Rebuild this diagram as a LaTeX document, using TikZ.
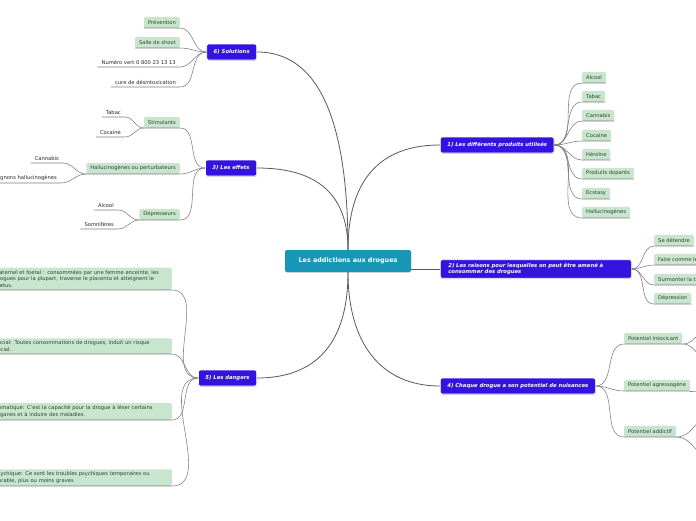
\documentclass[tikz,border=0pt]{standalone}
\usepackage{fontspec}
\setmainfont{DejaVu Sans}
\usetikzlibrary{positioning,shadows}
\definecolor{topicblue}{RGB}{52,18,224}
\definecolor{rootteal}{RGB}{24,150,184}
\definecolor{leafgreen}{RGB}{200,230,205}
\definecolor{leaftext}{RGB}{45,65,50}
\definecolor{linkgray}{RGB}{125,125,125}

\begin{document}
\begin{tikzpicture}[x=1pt, y=-1pt,
  root/.style={fill=rootteal, rounded corners=2pt, text=white, font=\fontsize{6.4}{7.5}\selectfont\bfseries,
    minimum width=126pt, minimum height=22pt, drop shadow={opacity=.25, shadow xshift=.3pt, shadow yshift=-.8pt}},
  topic/.style={fill=topicblue, draw=white, line width=.7pt, rounded corners=2pt, text=white,
    font=\fontsize{5.3}{6.6}\selectfont\bfseries\itshape, minimum height=16pt, inner xsep=7pt,
    drop shadow={opacity=.35, shadow xshift=.4pt, shadow yshift=-.9pt}},
  leaf/.style={fill=leafgreen, rounded corners=1.5pt, text=leaftext, font=\fontsize{5.2}{6.5}\selectfont,
    minimum height=11pt, inner xsep=4pt, inner ysep=1pt},
  note/.style={leaf, text width=173pt, align=left, inner ysep=2.5pt},
  bare/.style={text=black!85, font=\fontsize{5.2}{6.5}\selectfont, inner xsep=4pt, inner ysep=2pt},
  link/.style={draw=linkgray, line width=.55pt},
  trunk/.style={draw=black!65, line width=.8pt}]
\useasboundingbox (0,0) rectangle (696,520);
\clip (0,0) rectangle (696,520);
\fill[white] (0,0) rectangle (696,520);

% root and main topics
\node[root] (root) at (348,261) {Les addictions aux drogues};
\node[topic, anchor=east] (sol) at (257,52) {6) Solutions};
\node[topic, anchor=east] (eff) at (257,168) {3) Les effets};
\node[topic, anchor=east] (dan) at (257,378) {5) Les dangers};
\node[topic, anchor=west] (prod) at (440,145) {1) Les différents produits utilisés};
\node[topic, anchor=west, text width=175pt, align=left, inner xsep=8pt] (rais) at (440,269)
  {2) Les raisons pour lesquelles on peut être amené à\\consommer des drogues};
\node[topic, anchor=west] (pot) at (440,386) {4) Chaque drogue a son potentiel de nuisances};

\draw[trunk] (root.north) .. controls +(0,-110) and +(70,0) .. (sol.east);
\draw[trunk] (root.north) .. controls +(0,-60) and +(55,0) .. (eff.east);
\draw[trunk] (root.north) .. controls +(0,-70) and +(-60,0) .. (prod.west);
\draw[trunk] (root.east |- rais.west) -- (rais.west);
\draw[trunk] (root.south) .. controls +(0,70) and +(60,0) .. (dan.east);
\draw[trunk] (root.south) .. controls +(0,70) and +(-60,0) .. (pot.west);

% 6) Solutions
\node[leaf, anchor=south east] (prev) at (180,28) {Prévention};
\node[leaf, anchor=south east] (salle) at (180,48) {Salle de shoot};
\node[bare, anchor=south east] (nvert) at (180,67) {Numéro vert 0 800 23 13 13};
\node[bare, anchor=south east] (cure) at (180,87) {cure de désintoxication};
\foreach \n in {prev,salle,nvert,cure}
  \draw[link] (sol.west) to[out=180,in=0] (\n.south east) -- (\n.south west);

% 3) Les effets
\node[leaf, anchor=south east] (stim) at (180,128) {Stimulants};
\node[leaf, anchor=south east] (hallu) at (180,174) {Hallucinogènes ou perturbateurs};
\node[leaf, anchor=south east] (depr) at (180,220) {Dépresseurs};
\foreach \n in {stim,hallu,depr}
  \draw[link] (eff.west) to[out=180,in=0] (\n.south east) -- (\n.south west);
\node[bare, anchor=south east] (stab) at (125,117) {Tabac};
\node[bare, anchor=south east] (scoc) at (125,137) {Cocaine};
\node[bare, anchor=south east] (hcan) at (63,163) {Cannabis};
\node[bare, anchor=south east] (hcha) at (61,183) {Champignons hallucinogènes};
\node[bare, anchor=south east] (dalc) at (118,210) {Alcool};
\node[bare, anchor=south east] (dsom) at (118,229) {Somnifères};
\foreach \p/\n in {stim/stab,stim/scoc,hallu/hcan,hallu/hcha,depr/dalc,depr/dsom}
  \draw[link] (\p.south west) to[out=180,in=0] (\n.south east) -- (\n.south west);

% 5) Les dangers
\node[note, anchor=south east] (d1) at (172,290)
  {Maternel et foetal : consommées par une femme enceinte, les\\drogues pour la plupart, traverse le placenta et atteignent le\\foetus.};
\node[note, anchor=south east] (d2) at (172,354)
  {Social: Toutes consommations de drogues, induit un risque\\social.};
\node[note, anchor=south east] (d3) at (172,420)
  {Somatique: C'est la capacité pour la drogue à léser certains\\organes et à induire des maladies.};
\node[note, anchor=south east] (d4) at (172,486)
  {Psychique: Ce sont les troubles psychiques temporaires ou\\durable, plus ou moins graves};
\foreach \n in {d1,d2,d3,d4}
  \draw[link] (dan.west) to[out=180,in=0] (\n.south east) -- (\n.south west);

% 1) Les differents produits
\foreach \n/\t/\y in {p1/Alcool/83, p2/Tabac/102, p3/Cannabis/121, p4/Cocaine/141,
    p5/Héroïne/160, p6/Produits dopants/179, p7/Ecstasy/199, p8/Hallucinogènes/218}
  \node[leaf, anchor=south west] (\n) at (582,\y) {\t};
\foreach \n in {p1,p2,p3,p4,p5,p6,p7,p8}
  \draw[link] (prod.east) to[out=0,in=180] (\n.south west) -- (\n.south east);

% 2) Les raisons
\foreach \n/\t/\y in {r1/Se détendre/246, r2/Faire comme les autres/265,
    r3/Surmonter la timidité/285, r4/Dépression/304}
  \node[leaf, anchor=south west] (\n) at (654,\y) {\t};
\foreach \n in {r1,r2,r3,r4}
  \draw[link] (rais.east) to[out=0,in=180] (\n.south west) -- (\n.south east);

% 4) Potentiel de nuisances
\node[leaf, anchor=south west] (intox) at (624,344) {Potentiel intoxicant};
\node[leaf, anchor=south west] (agr) at (624,391) {Potentiel agressogène};
\node[leaf, anchor=south west] (addi) at (624,437) {Potentiel addictif};
\foreach \n in {intox,agr,addi}
  \draw[link] (pot.east) to[out=0,in=180] (\n.south west) -- (\n.south east);
\coordinate (i1) at (716,322);
\coordinate (i2) at (716,368);
\coordinate (g1) at (716,391);
\coordinate (a1) at (716,412);
\coordinate (a2) at (716,462);
\foreach \p/\n in {intox/i1,intox/i2,agr/g1,addi/a1,addi/a2}
  \draw[link] (\p.south east) to[out=0,in=180] (\n);
\end{tikzpicture}
\end{document}
